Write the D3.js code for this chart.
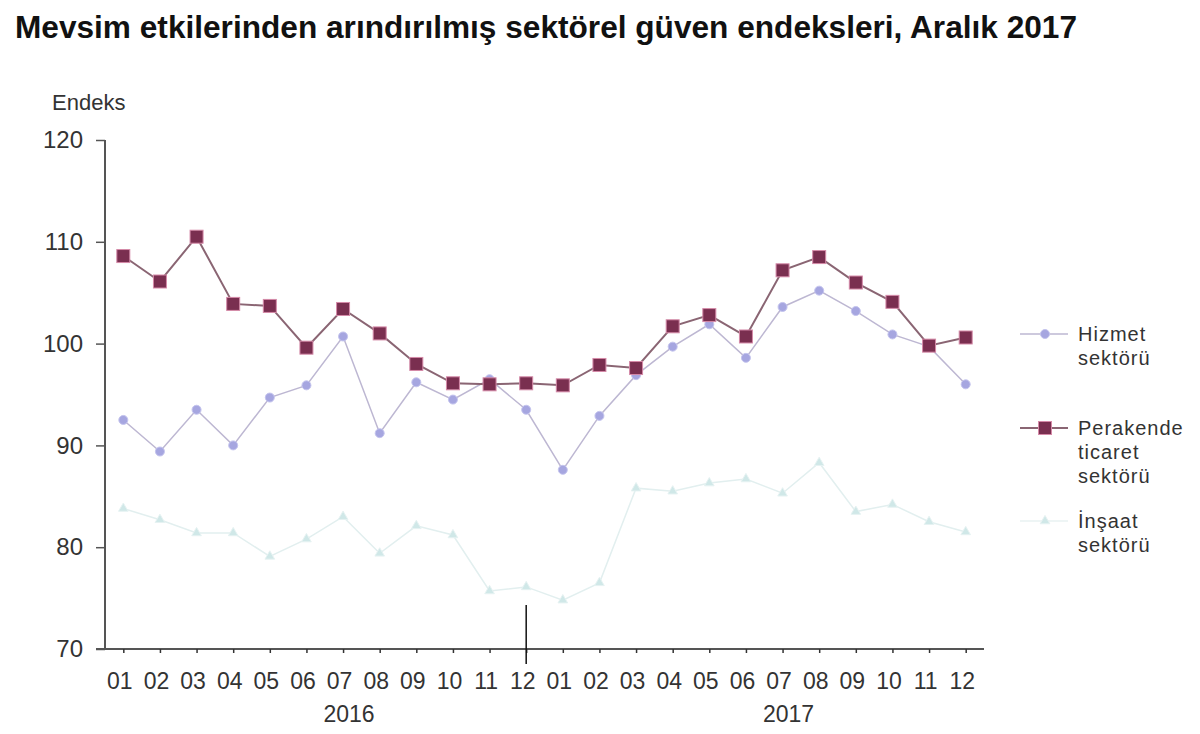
<!DOCTYPE html>
<html>
<head>
<meta charset="utf-8">
<script src="https://cdn.jsdelivr.net/npm/d3@7/dist/d3.min.js"></script>
<style>
  body { margin: 0; background: #fff; }
  text { font-family: "Liberation Sans", Arial, sans-serif; fill: #222; }
</style>
</head>
<body>
<div id="chart"></div>
<script>
// months, two years
const months = ["01","02","03","04","05","06","07","08","09","10","11","12",
                "01","02","03","04","05","06","07","08","09","10","11","12"];
const years = ["2016", "2017"];

const hizmet = [92.5, 89.4, 93.5, 90.0, 94.7, 95.9, 100.7, 91.2, 96.2, 94.5, 96.5, 93.5,
                87.6, 92.9, 96.9, 99.7, 101.9, 98.6, 103.6, 105.2, 103.2, 100.9, 99.7, 96.0];
const perakende = [108.6, 106.1, 110.5, 103.9, 103.7, 99.6, 103.4, 101.0, 98.0, 96.1, 96.0, 96.1,
                   95.9, 97.9, 97.6, 101.7, 102.8, 100.7, 107.2, 108.5, 106.0, 104.1, 99.8, 100.6];
const insaat = [83.8, 82.7, 81.4, 81.4, 79.1, 80.8, 83.0, 79.4, 82.1, 81.2, 75.7, 76.1,
                74.8, 76.5, 85.8, 85.5, 86.3, 86.7, 85.3, 88.3, 83.5, 84.2, 82.5, 81.5];

const yTicks = [70, 80, 90, 100, 110, 120];

const W = 1200, H = 734;
const svg = d3.select("#chart").append("svg")
    .attr("width", W)
    .attr("height", H);

svg.append("text")
    .attr("x", 15)
    .attr("y", 38)
    .attr("textLength", 1062)
    .attr("lengthAdjust", "spacingAndGlyphs")
    .style("font-size", "31px")
    .style("font-weight", "bold")
    .style("fill", "#111")
    .text("Mevsim etkilerinden arındırılmış sektörel güven endeksleri, Aralık 2017");

const idx = months.map((m, i) => i);
const x = d3.scalePoint()
    .domain(idx)
    .range([105, 984])
    .padding(0.5);

const y = d3.scaleLinear()
    .domain([70, 120])
    .range([649, 140]);

// y axis
const yAxis = svg.append("g")
    .attr("transform", "translate(105,0)")
    .call(d3.axisLeft(y).tickValues(yTicks).tickSize(9).tickPadding(13));
yAxis.select(".domain").attr("stroke", "#555").attr("stroke-width", 2).attr("d", "M0,140V649");
yAxis.selectAll(".tick line").attr("stroke", "#555").attr("stroke-width", 1.5);
yAxis.selectAll(".tick text")
    .style("font-size", "24px")
    .style("fill", "#333")
    .style("font-family", "Liberation Sans, Arial, sans-serif");

svg.append("text")
    .attr("x", 52)
    .attr("y", 110)
    .style("font-size", "22px")
    .style("fill", "#333")
    .text("Endeks");

// x axis
const xAxis = svg.append("g")
    .attr("transform", "translate(0,649)")
    .call(d3.axisBottom(x).tickSize(4).tickPadding(20).tickFormat(i => months[i]));
xAxis.select(".domain").attr("stroke", "#555").attr("stroke-width", 2).attr("d", "M96,0H984");
xAxis.selectAll(".tick line").attr("stroke", "#333").attr("stroke-width", 1.5);
xAxis.selectAll(".tick text")
    .attr("dx", -4)
    .style("font-size", "23px")
    .style("fill", "#333")
    .style("font-family", "Liberation Sans, Arial, sans-serif");

// year separator after December 2016
svg.append("line")
    .attr("x1", x(11)).attr("x2", x(11))
    .attr("y1", 605).attr("y2", 664)
    .attr("stroke", "#111")
    .attr("stroke-width", 1.5);

years.forEach((yr, k) => {
    svg.append("text")
        .attr("x", x(k * 12 + 6) + 6)
        .attr("y", 722)
        .attr("text-anchor", "middle")
        .style("font-size", "23px")
        .style("fill", "#333")
        .text(yr);
});

const line = d3.line().x((d, i) => x(i)).y(d => y(d));

// İnşaat
svg.append("path")
    .datum(insaat)
    .attr("d", line)
    .attr("fill", "none")
    .attr("stroke", "#e2efef")
    .attr("stroke-width", 1.5);
const tri = d3.symbol().type(d3.symbolTriangle).size(40);
svg.append("g").selectAll("path")
    .data(insaat)
    .join("path")
    .attr("d", tri)
    .attr("transform", (d, i) => `translate(${x(i)},${y(d)})`)
    .attr("fill", "#d0e8e8")
    .attr("stroke", "#e6f2f2");

// Hizmet
svg.append("path")
    .datum(hizmet)
    .attr("d", line)
    .attr("fill", "none")
    .attr("stroke", "#bdb7d2")
    .attr("stroke-width", 1.5);
svg.append("g").selectAll("circle")
    .data(hizmet)
    .join("circle")
    .attr("cx", (d, i) => x(i))
    .attr("cy", d => y(d))
    .attr("r", 4.5)
    .attr("fill", "#a6a6e0")
    .attr("stroke", "#c4c4ee")
    .attr("stroke-width", 1);

// Perakende
svg.append("path")
    .datum(perakende)
    .attr("d", line)
    .attr("fill", "none")
    .attr("stroke", "#8a6573")
    .attr("stroke-width", 2);
svg.append("g").selectAll("rect")
    .data(perakende)
    .join("rect")
    .attr("x", (d, i) => x(i) - 6.5)
    .attr("y", d => y(d) - 6.5)
    .attr("width", 13)
    .attr("height", 13)
    .attr("fill", "#7a2f50")
    .attr("stroke", "#d58aa8")
    .attr("stroke-width", 1);

// legend
const legend = svg.append("g").attr("class", "legend");
const legItems = [
    { lines: ["Hizmet", "sektörü"], y: 334, color: "#bdb7d2", kind: "circle" },
    { lines: ["Perakende", "ticaret", "sektörü"], y: 428, color: "#8a6573", kind: "rect" },
    { lines: ["İnşaat", "sektörü"], y: 521, color: "#e8f2f2", kind: "tri" }
];
legItems.forEach(it => {
    legend.append("line")
        .attr("x1", 1020).attr("x2", 1068)
        .attr("y1", it.y).attr("y2", it.y)
        .attr("stroke", it.color)
        .attr("stroke-width", it.kind === "rect" ? 2 : 1.5);
    if (it.kind === "circle") {
        legend.append("circle").attr("cx", 1045).attr("cy", it.y).attr("r", 4.5)
            .attr("fill", "#a6a6e0").attr("stroke", "#c4c4ee");
    } else if (it.kind === "rect") {
        legend.append("rect").attr("x", 1038.5).attr("y", it.y - 6.5).attr("width", 13).attr("height", 13)
            .attr("fill", "#7a2f50").attr("stroke", "#d58aa8");
    } else {
        legend.append("path").attr("d", tri).attr("transform", `translate(1045,${it.y})`)
            .attr("fill", "#d0e8e8").attr("stroke", "#e6f2f2");
    }
    it.lines.forEach((t, j) => {
        legend.append("text")
            .attr("x", 1078)
            .attr("y", it.y + 7 + j * 24)
            .style("font-size", "20px")
            .style("letter-spacing", "1px")
            .style("fill", "#333")
            .text(t);
    });
});
</script>
</body>
</html>
